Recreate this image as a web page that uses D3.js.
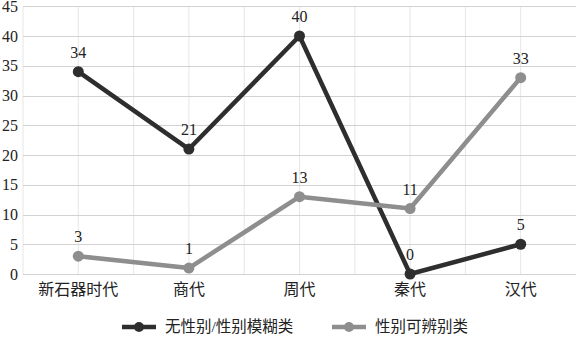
<!DOCTYPE html>
<html>
<head>
<meta charset="utf-8">
<script src="https://cdn.jsdelivr.net/npm/d3@7"></script>
<style>
  html, body { margin: 0; padding: 0; background: #fff; }
  svg { display: block; }
</style>
</head>
<body>
<svg id="chart" width="576" height="337"></svg>
<script>
// Periods along the x axis
const categories = ["新石器时代", "商代", "周代", "秦代", "汉代"];
// Counts per period for each group
const ambiguousValues = [34, 21, 40, 0, 5];
const distinguishableValues = [3, 1, 13, 11, 33];
const seriesNames = ["无性别/性别模糊类", "性别可辨别类"];
const yTicks = [0, 5, 10, 15, 20, 25, 30, 35, 40, 45];

const series = [
  { name: seriesNames[0], values: ambiguousValues, color: "#2e2e2e" },
  { name: seriesNames[1], values: distinguishableValues, color: "#8e8e8e" }
];

const svg = d3.select("#chart");
const plotLeft = 23, plotRight = 576, plotTop = 6.25, plotBottom = 274;
const serif = "'Liberation Serif', 'Times New Roman', 'Noto Sans CJK SC', serif";

const x = d3.scaleBand().domain(categories).range([plotLeft, plotRight]).padding(0);
const y = d3.scaleLinear().domain([0, 45]).range([plotBottom, plotTop]);
const cx = d => x(d) + x.bandwidth() / 2;

// vertical grid lines at band edges and centres
const vLines = [];
categories.forEach(c => { vLines.push(x(c)); vLines.push(cx(c)); });
svg.append("g").selectAll("line").data(vLines).join("line")
  .attr("x1", d => d).attr("x2", d => d)
  .attr("y1", y(45)).attr("y2", y(0))
  .attr("stroke", "#e6e6e6").attr("stroke-width", 1);

// horizontal grid lines
svg.append("g").selectAll("line").data(yTicks).join("line")
  .attr("x1", plotLeft).attr("x2", plotRight)
  .attr("y1", d => Math.round(y(d)) + 0.5).attr("y2", d => Math.round(y(d)) + 0.5)
  .attr("stroke", "#d2d2d2").attr("stroke-width", 1.2);

// y axis labels
const yAxis = d3.axisLeft(y).tickValues(yTicks).tickSize(0).tickPadding(5);
const gy = svg.append("g").attr("transform", `translate(${plotLeft},0)`).call(yAxis);
gy.select(".domain").remove();
gy.selectAll("text").attr("font-family", serif).attr("font-size", 16).attr("fill", "#222");

// x axis labels
const xAxis = d3.axisBottom(x).tickSize(0).tickPadding(10);
const gx = svg.append("g").attr("transform", `translate(0,${plotBottom})`).call(xAxis);
gx.select(".domain").remove();
gx.selectAll("text").attr("font-family", serif).attr("font-size", 16).attr("fill", "#222");

const line = d3.line().x((d, i) => cx(categories[i])).y(d => y(d));

series.forEach(s => {
  svg.append("path").datum(s.values)
    .attr("d", line).attr("fill", "none")
    .attr("stroke", s.color).attr("stroke-width", 4.5)
    .attr("stroke-linejoin", "round").attr("stroke-linecap", "round");
  svg.append("g").selectAll("circle").data(s.values).join("circle")
    .attr("cx", (d, i) => cx(categories[i])).attr("cy", d => y(d))
    .attr("r", 5.5).attr("fill", s.color);
  svg.append("g").selectAll("text").data(s.values).join("text")
    .attr("x", (d, i) => cx(categories[i])).attr("y", d => y(d) - 14)
    .attr("text-anchor", "middle")
    .attr("font-family", serif).attr("font-size", 16).attr("fill", "#222")
    .text(d => d);
});

// legend
const legendItems = [
  { x: 122, s: series[0] },
  { x: 332, s: series[1] }
];
const ly = 327;
legendItems.forEach(item => {
  const g = svg.append("g");
  g.append("line").attr("x1", item.x).attr("x2", item.x + 34)
    .attr("y1", ly).attr("y2", ly)
    .attr("stroke", item.s.color).attr("stroke-width", 4.5);
  g.append("circle").attr("cx", item.x + 17).attr("cy", ly).attr("r", 5)
    .attr("fill", item.s.color);
  g.append("text").attr("x", item.x + 43).attr("y", ly).attr("dy", "0.35em")
    .attr("font-family", serif).attr("font-size", 15.5).attr("fill", "#222")
    .text(item.s.name);
});
</script>
</body>
</html>
